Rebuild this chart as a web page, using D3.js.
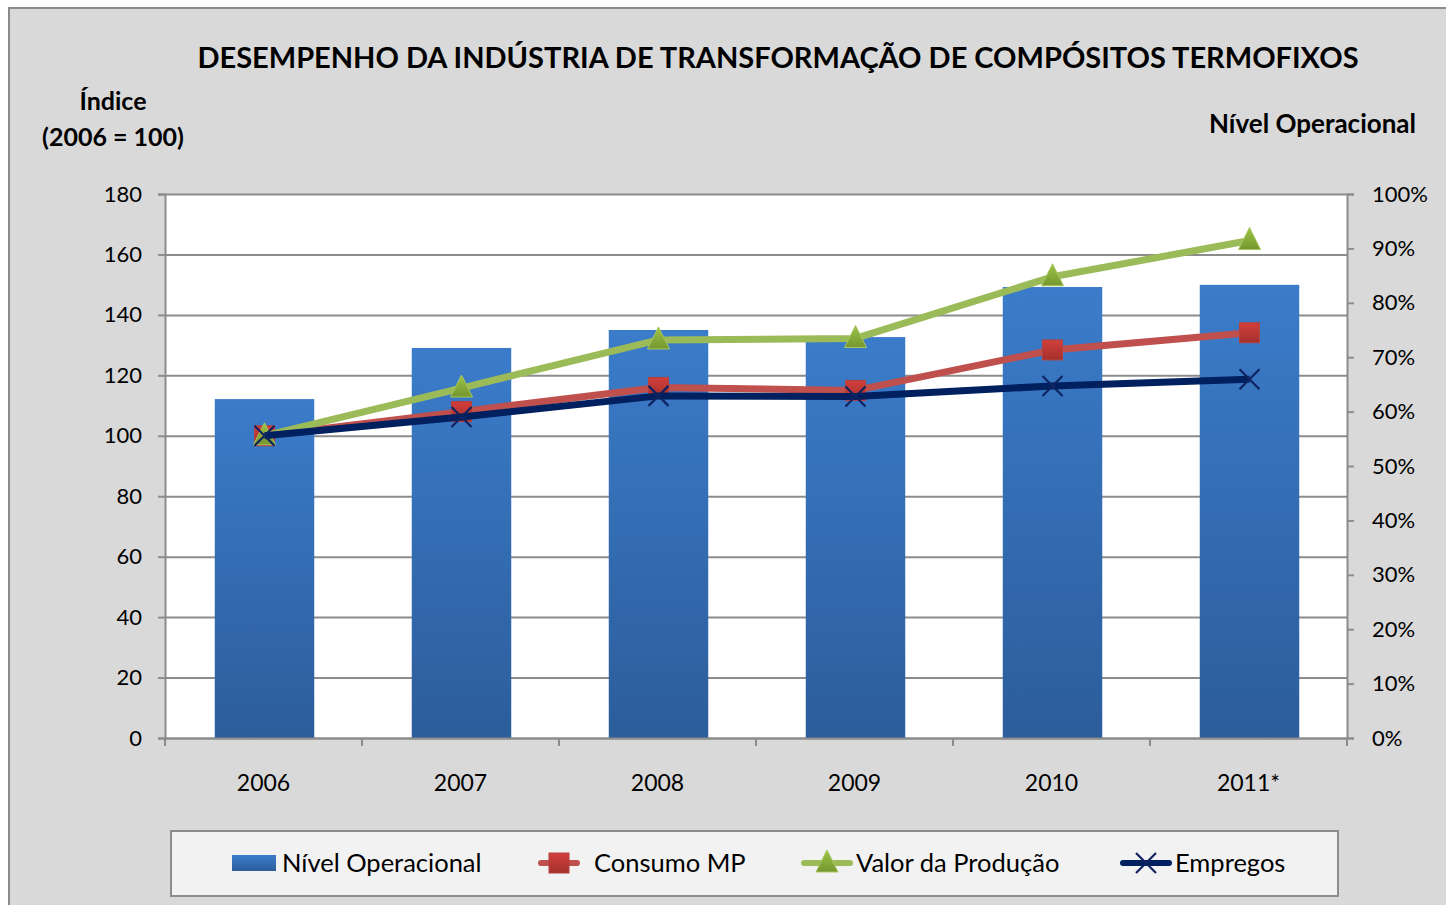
<!DOCTYPE html>
<html>
<head>
<meta charset="utf-8">
<script src="https://cdn.jsdelivr.net/npm/d3@7"></script>
<style>
  body { margin: 0; background: #fff; }
  svg { display: block; }
</style>
</head>
<body>
<svg></svg>
<script>
const width = 1446;
const height = 905;
const margin = { top: 194, right: 99, bottom: 167, left: 165 };

const years = ["2006", "2007", "2008", "2009", "2010", "2011*"];
const nivelOperacional = [0.623, 0.717, 0.750, 0.737, 0.829, 0.833];
const consumoMP = [100, 108, 116, 115, 128.4, 134.1];
const valorProducao = [100, 115.8, 131.7, 132.2, 152.6, 164.6];
const empregos = [100, 106.2, 113.2, 113.0, 116.5, 118.7];
const leftTicks = [0, 20, 40, 60, 80, 100, 120, 140, 160, 180];
const rightTicks = [0, 0.1, 0.2, 0.3, 0.4, 0.5, 0.6, 0.7, 0.8, 0.9, 1];

const font = 'Lato, "Open Sans", sans-serif';

const svg = d3.select("svg")
  .attr("width", width)
  .attr("height", height)
  .style("font-family", font);

const defs = svg.append("defs");
const barGrad = defs.append("linearGradient")
  .attr("id", "barGrad")
  .attr("x1", 0).attr("y1", 0).attr("x2", 0).attr("y2", 1);
barGrad.append("stop").attr("offset", "0%").attr("stop-color", "#3b7cca");
barGrad.append("stop").attr("offset", "100%").attr("stop-color", "#2c5d9b");

const redGrad = defs.append("linearGradient")
  .attr("id", "redGrad")
  .attr("x1", 0).attr("y1", 0).attr("x2", 0).attr("y2", 1);
redGrad.append("stop").attr("offset", "0%").attr("stop-color", "#d23f3b");
redGrad.append("stop").attr("offset", "100%").attr("stop-color", "#a3302d");

const greenGrad = defs.append("linearGradient")
  .attr("id", "greenGrad")
  .attr("x1", 0).attr("y1", 0).attr("x2", 0).attr("y2", 1);
greenGrad.append("stop").attr("offset", "0%").attr("stop-color", "#9cc347");
greenGrad.append("stop").attr("offset", "100%").attr("stop-color", "#76962f");

// chart background
svg.append("rect")
  .attr("x", 9).attr("y", 8)
  .attr("width", width - 9 + 2).attr("height", height - 8 + 2)
  .attr("fill", "#d9d9d9")
  .attr("stroke", "#8a8a8a")
  .attr("stroke-width", 2);

const x = d3.scaleBand()
  .domain(years)
  .range([margin.left, width - margin.right])
  .paddingInner(0.495)
  .paddingOuter(0.2475);

const xTickScale = d3.scaleBand()
  .domain(years)
  .range([margin.left, width - margin.right]);

const y = d3.scaleLinear()
  .domain([0, 180])
  .range([height - margin.bottom, margin.top]);

const y2 = d3.scaleLinear()
  .domain([0, 1])
  .range([height - margin.bottom, margin.top]);

// plot area
svg.append("rect")
  .attr("x", margin.left).attr("y", margin.top)
  .attr("width", width - margin.left - margin.right)
  .attr("height", height - margin.top - margin.bottom)
  .attr("fill", "#fff");

// gridlines
svg.append("g")
  .attr("class", "grid")
  .attr("transform", `translate(${margin.left},0)`)
  .call(d3.axisLeft(y)
    .tickValues(leftTicks)
    .tickSize(-(width - margin.left - margin.right))
    .tickFormat(""))
  .call(g => g.select(".domain").remove())
  .selectAll("line")
  .attr("stroke", "#8c8c8c")
  .attr("stroke-width", 2);

// bars
svg.append("g").selectAll("rect")
  .data(years)
  .join("rect")
  .attr("x", d => x(d) + 1)
  .attr("width", x.bandwidth())
  .attr("y", (d, i) => y2(nivelOperacional[i]))
  .attr("height", (d, i) => y2(0) - y2(nivelOperacional[i]))
  .attr("fill", "url(#barGrad)");

// axes
const axisColor = "#8c8c8c";
const leftAxis = svg.append("g")
  .attr("transform", `translate(${margin.left},0)`)
  .call(d3.axisLeft(y).tickValues(leftTicks).tickSize(7).tickPadding(16));

const rightAxis = svg.append("g")
  .attr("transform", `translate(${width - margin.right},0)`)
  .call(d3.axisRight(y2).tickValues(rightTicks).tickSize(7).tickPadding(18)
    .tickFormat(d3.format(".0%")));

const bottomAxis = svg.append("g")
  .attr("transform", `translate(0,${height - margin.bottom})`)
  .call(d3.axisBottom(xTickScale).tickSize(0).tickPadding(37));

// category separator ticks
svg.append("g").selectAll("line")
  .data(years.concat(["end"]))
  .join("line")
  .attr("x1", (d, i) => i < years.length ? xTickScale(d) : width - margin.right)
  .attr("x2", (d, i) => i < years.length ? xTickScale(d) : width - margin.right)
  .attr("y1", height - margin.bottom)
  .attr("y2", height - margin.bottom + 8)
  .attr("stroke", axisColor)
  .attr("stroke-width", 2);

[leftAxis, rightAxis, bottomAxis].forEach(a => {
  a.selectAll("path").attr("stroke", axisColor).attr("stroke-width", 2);
  a.selectAll("line").attr("stroke", axisColor).attr("stroke-width", 2);
  a.selectAll("text")
    .attr("fill", "#000")
    .style("font-size", "22px")
    .style("font-family", font);
});
bottomAxis.selectAll("text").style("font-size", "23px");

// lines
const cx = (d, i) => x(years[i]) + x.bandwidth() / 2 + 1;
const line = d3.line().x(cx).y(d => y(d));

const series = [
  { name: "Consumo MP", values: consumoMP, color: "#c0504d", marker: "square" },
  { name: "Valor da Produção", values: valorProducao, color: "#9bbb59", marker: "triangle" },
  { name: "Empregos", values: empregos, color: "#002060", marker: "x" }
];

function drawMarker(g, type, px, py) {
  if (type === "square") {
    g.append("rect")
      .attr("x", px - 10).attr("y", py - 10)
      .attr("width", 20).attr("height", 20)
      .attr("fill", "url(#redGrad)")
      .attr("stroke", "#b3413e").attr("stroke-width", 1);
  } else if (type === "triangle") {
    g.append("path")
      .attr("d", `M${px},${py - 13}L${px + 11},${py + 9}L${px - 11},${py + 9}Z`)
      .attr("fill", "url(#greenGrad)")
      .attr("stroke", "#a6c75f").attr("stroke-width", 1);
  } else {
    g.append("path")
      .attr("d", `M${px - 10},${py - 10}L${px + 10},${py + 10}M${px + 10},${py - 10}L${px - 10},${py + 10}`)
      .attr("stroke", "#0f2360").attr("stroke-width", 2.2);
  }
}

series.forEach(s => {
  svg.append("path")
    .datum(s.values)
    .attr("d", line)
    .attr("fill", "none")
    .attr("stroke", s.color)
    .attr("stroke-width", 7)
    .attr("stroke-linejoin", "round");
  const mg = svg.append("g");
  s.values.forEach((v, i) => drawMarker(mg, s.marker, cx(v, i), y(v)));
});

// titles
svg.append("text")
  .attr("x", 778).attr("y", 68)
  .attr("text-anchor", "middle")
  .style("font-size", "29px")
  .style("font-weight", 700)
  .text("DESEMPENHO DA INDÚSTRIA DE TRANSFORMAÇÃO DE COMPÓSITOS  TERMOFIXOS");

svg.append("text")
  .attr("x", 113).attr("y", 110)
  .attr("text-anchor", "middle")
  .style("font-size", "25px")
  .style("font-weight", 700)
  .text("Índice");

svg.append("text")
  .attr("x", 113).attr("y", 146)
  .attr("text-anchor", "middle")
  .style("font-size", "25px")
  .style("font-weight", 700)
  .text("(2006 = 100)");

svg.append("text")
  .attr("x", 1416).attr("y", 133)
  .attr("text-anchor", "end")
  .style("font-size", "26px")
  .style("font-weight", 700)
  .text("Nível Operacional");

// legend
const legend = svg.append("g");
legend.append("rect")
  .attr("x", 171).attr("y", 831)
  .attr("width", 1167).attr("height", 65)
  .attr("fill", "#f2f2f2")
  .attr("stroke", "#8c8c8c")
  .attr("stroke-width", 2);

const legendY = 863;
const legendFont = "25.5px";
legend.append("rect")
  .attr("x", 232).attr("y", legendY - 8)
  .attr("width", 44).attr("height", 16)
  .attr("fill", "url(#barGrad)");
legend.append("text")
  .attr("x", 282).attr("y", legendY + 9)
  .style("font-size", legendFont)
  .text("Nível Operacional");

const legendItems = [
  { s: series[0], x1: 541, x2: 577, tx: 594 },
  { s: series[1], x1: 804, x2: 850, tx: 856 },
  { s: series[2], x1: 1123, x2: 1169, tx: 1175 }
];
legendItems.forEach(it => {
  legend.append("line")
    .attr("x1", it.x1).attr("x2", it.x2)
    .attr("y1", legendY).attr("y2", legendY)
    .attr("stroke", it.s.color)
    .attr("stroke-width", 6)
    .attr("stroke-linecap", "round");
  drawMarker(legend, it.s.marker, (it.x1 + it.x2) / 2, legendY);
  legend.append("text")
    .attr("x", it.tx).attr("y", legendY + 9)
    .style("font-size", legendFont)
    .text(it.s.name);
});
</script>
</body>
</html>
